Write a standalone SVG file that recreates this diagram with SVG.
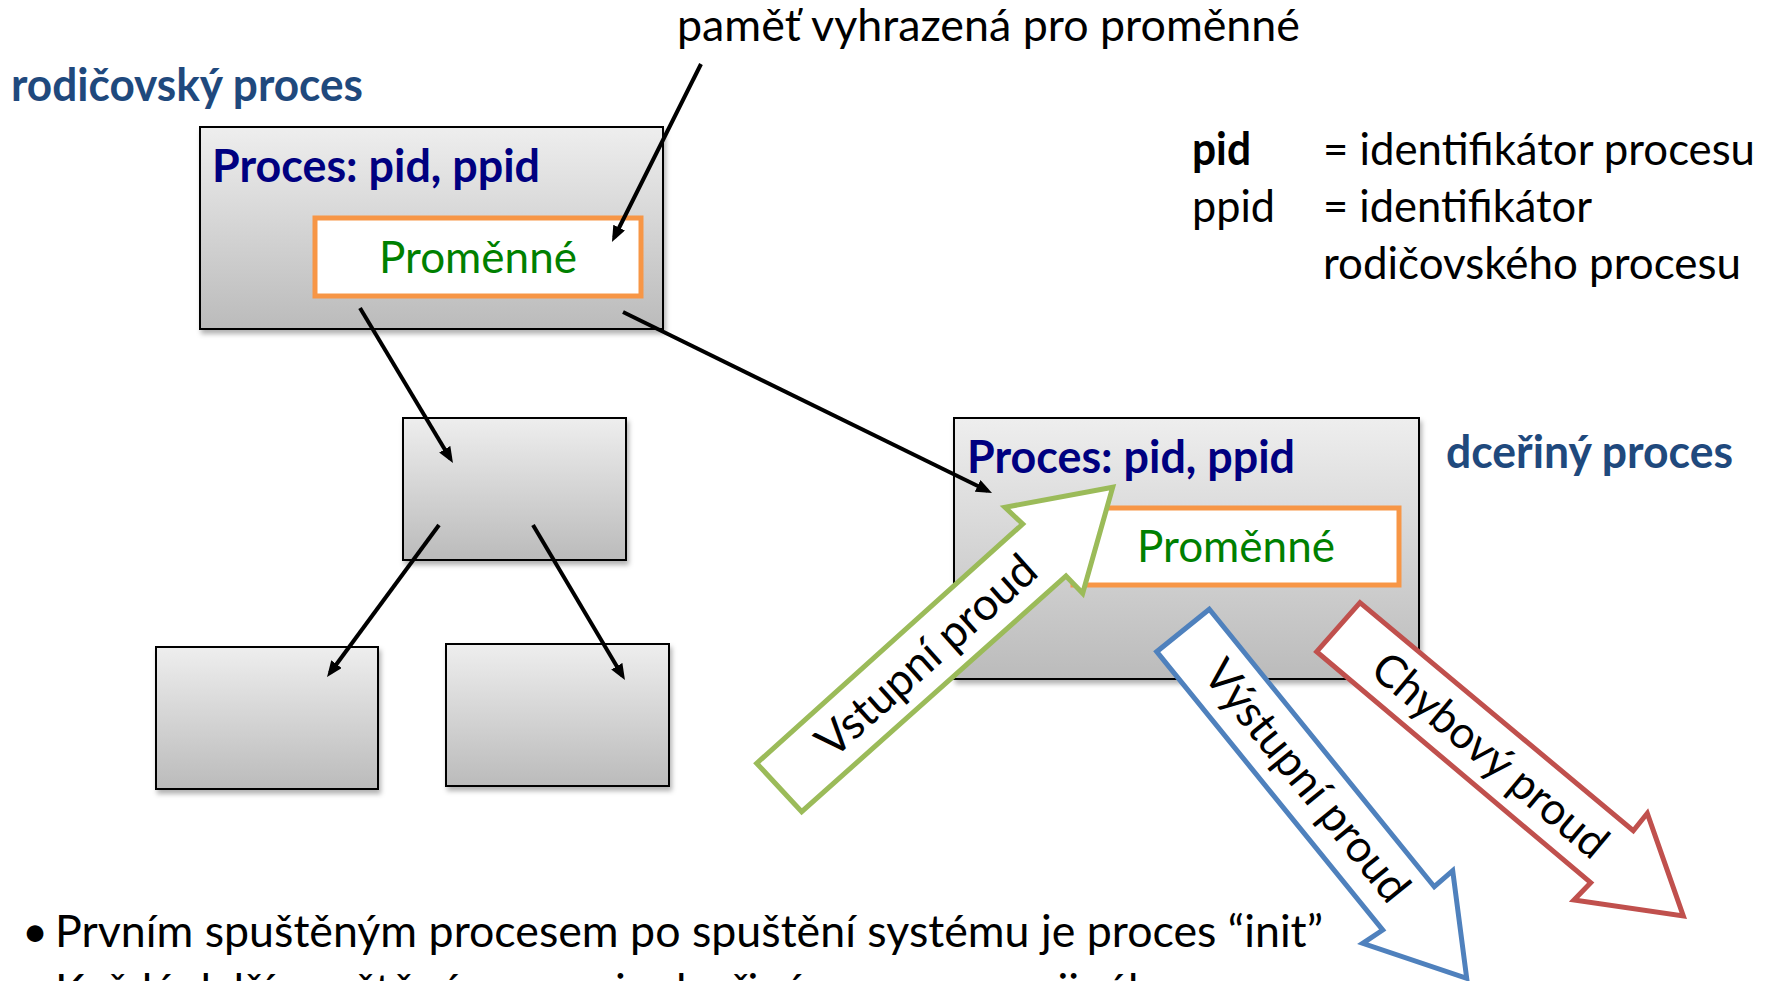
<svg xmlns="http://www.w3.org/2000/svg" width="1777" height="981" viewBox="0 0 1777 981">
<defs>
<linearGradient id="gbox" x1="0" y1="0" x2="0" y2="1">
<stop offset="0" stop-color="#EEEEEE"/>
<stop offset="1" stop-color="#BBBBBB"/>
</linearGradient>
<filter id="sh" x="-5%" y="-5%" width="115%" height="120%">
<feDropShadow dx="2" dy="4" stdDeviation="2.5" flood-color="#000" flood-opacity="0.3"/>
</filter>
<marker id="ah" markerUnits="userSpaceOnUse" viewBox="0 0 16 13" markerWidth="16" markerHeight="13" refX="11" refY="6.5" orient="auto">
<path d="M0,0 L16,6.5 L0,13 z" fill="#000"/>
</marker>
</defs>
<style>
text{font-family:Lato,"Open Sans","Liberation Sans",sans-serif;font-size:45px;fill:#000}
.box{fill:url(#gbox);stroke:#000;stroke-width:2;filter:url(#sh)}
.var{fill:#fff;stroke:#F79646;stroke-width:5}
.title{font-weight:bold;fill:#000080}
.lbl{font-weight:bold;fill:#1F497D}
.vt{fill:#008000}
.con{stroke:#000;stroke-width:4;fill:none;marker-end:url(#ah)}
.stream{fill:#fff;stroke-width:5;stroke-linejoin:miter}
</style>

<g id="note-memory">
<text x="677" y="41" textLength="623" lengthAdjust="spacingAndGlyphs">paměť vyhrazená pro proměnné</text>
</g>
<g id="label-parent">
<text class="lbl" x="11" y="101" textLength="352" lengthAdjust="spacingAndGlyphs">rodičovský proces</text>
</g>
<g id="legend">
<text x="1192" y="165" font-weight="bold" textLength="59" lengthAdjust="spacingAndGlyphs">pid</text>
<text x="1323" y="165" textLength="432" lengthAdjust="spacingAndGlyphs">= identifikátor procesu</text>
<text x="1192" y="222" textLength="83" lengthAdjust="spacingAndGlyphs">ppid</text>
<text x="1323" y="222" textLength="269" lengthAdjust="spacingAndGlyphs">= identifikátor</text>
<text x="1323" y="279" textLength="418" lengthAdjust="spacingAndGlyphs">rodičovského procesu</text>
</g>

<g id="parent">
<rect class="box" x="200" y="127" width="463" height="202"/>
<text class="title" x="212" y="182" textLength="328" lengthAdjust="spacingAndGlyphs">Proces: pid, ppid</text>
<rect class="var" x="315" y="218" width="326" height="78"/>
<text class="vt" x="379" y="273" textLength="198" lengthAdjust="spacingAndGlyphs">Proměnné</text>
</g>
<g id="middle">
<rect class="box" x="403" y="418" width="223" height="142"/>
</g>
<g id="bottom-left">
<rect class="box" x="156" y="647" width="222" height="142"/>
</g>
<g id="bottom-right">
<rect class="box" x="446" y="644" width="223" height="142"/>
</g>
<g id="child">
<rect class="box" x="954" y="418" width="465" height="261"/>
<text class="title" x="967" y="473" textLength="328" lengthAdjust="spacingAndGlyphs">Proces: pid, ppid</text>
<rect class="var" x="1073" y="508" width="326" height="77"/>
<text class="vt" x="1137" y="562" textLength="198" lengthAdjust="spacingAndGlyphs">Proměnné</text>
</g>
<g id="label-child">
<text class="lbl" x="1446" y="468" textLength="287" lengthAdjust="spacingAndGlyphs">dceřiný proces</text>
</g>

<g id="connectors">
<line class="con" x1="701" y1="64" x2="614.2" y2="237.5"/>
<line class="con" x1="360" y1="308" x2="450.4" y2="458.7"/>
<line class="con" x1="439" y1="525" x2="330" y2="673"/>
<line class="con" x1="533" y1="525" x2="622.4" y2="675.7"/>
<line class="con" x1="623" y1="312" x2="987.5" y2="490.8"/>
</g>

<g id="stream-input">
<polygon class="stream" stroke="#9BBB59" points="1112.7,487.3 1005,507.3 1022.7,524 756.7,763.3 801.7,811.7 1066,576 1082.7,593.3"/>
<text transform="translate(926.7,656) rotate(-41.8)" x="0" y="15" text-anchor="middle" textLength="278" lengthAdjust="spacingAndGlyphs">Vstupní proud</text>
</g>
<g id="stream-output">
<polygon class="stream" stroke="#4F81BD" points="1209.3,609.3 1156.7,651.7 1382.7,930 1362.7,943.3 1466.7,978.3 1452.7,870.7 1434.3,886.7"/>
<text transform="translate(1306.7,781) rotate(50.9)" x="0" y="15" text-anchor="middle" textLength="297" lengthAdjust="spacingAndGlyphs">Výstupní proud</text>
</g>
<g id="stream-error">
<polygon class="stream" stroke="#C0504D" points="1360,602.7 1316.7,651.7 1590.7,882.7 1574,900 1683.3,916 1647.3,813.3 1633.3,830.7"/>
<text transform="translate(1490,755.5) rotate(40)" x="0" y="15" text-anchor="middle" textLength="292" lengthAdjust="spacingAndGlyphs">Chybový proud</text>
</g>

<g id="bullets">
<text x="22" y="947">•</text>
<text x="55" y="947" textLength="1268" lengthAdjust="spacingAndGlyphs">Prvním spuštěným procesem po spuštění systému je proces “init”</text>
<text x="55" y="1006">Každý další spuštěný proces je dceřiným procesem jiného procesu</text>
</g>
</svg>
